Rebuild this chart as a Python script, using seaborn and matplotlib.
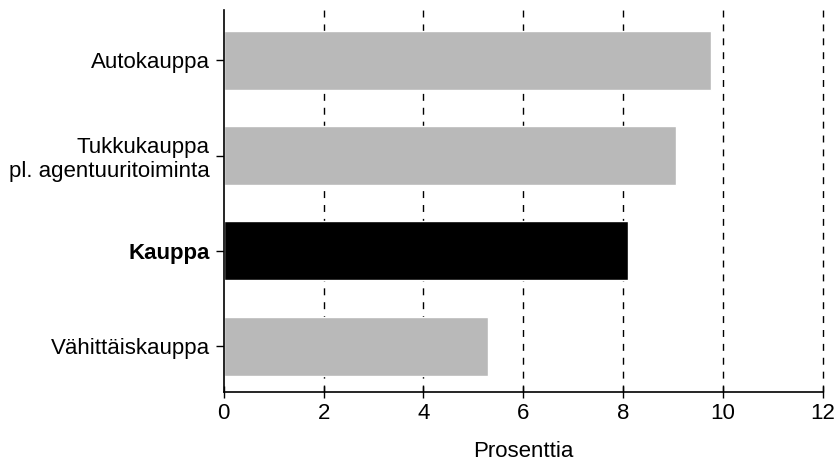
import pandas as pd
import matplotlib.pyplot as plt
import seaborn as sns

# Data
categories = ['Autokauppa', 'Tukkukauppa\npl. agentuuritoiminta', 'Kauppa', 'Vähittäiskauppa']
values = [9.75, 9.05, 8.1, 5.3]
bar_colors = ['#b9b9b9', '#b9b9b9', '#000000', '#b9b9b9']
x_ticks = [0, 2, 4, 6, 8, 10, 12]

df = pd.DataFrame({'toimiala': categories, 'prosenttia': values})

sns.set_style('white')
plt.rcParams['font.family'] = ['Liberation Sans', 'DejaVu Sans']
plt.rcParams['text.color'] = 'black'
plt.rcParams['xtick.color'] = 'black'
plt.rcParams['ytick.color'] = 'black'
plt.rcParams['axes.labelcolor'] = 'black'

fig = plt.figure(figsize=(8.38, 4.66), dpi=100)
ax = fig.add_axes([0.267, 0.159, 0.715, 0.820])

sns.barplot(data=df, x='prosenttia', y='toimiala', hue='toimiala',
            palette=bar_colors, orient='h', width=0.62, legend=False,
            saturation=1, ax=ax)

fs = 16
ax.set_xlim(0, 12)
ax.set_ylim(3.48, -0.53)
ax.set_xticks(x_ticks)
ax.set_xticklabels([str(t) for t in x_ticks], fontsize=fs)
ax.tick_params(axis='y', labelsize=fs, length=6, width=1, direction='out', left=True, pad=4)
ax.tick_params(axis='x', length=8, width=1, direction='inout', bottom=True, pad=4)

for lab in ax.get_yticklabels():
    if lab.get_text() == 'Kauppa':
        lab.set_fontweight('bold')

# dashed vertical grid
for t in x_ticks[1:]:
    ax.axvline(t, color='black', linestyle=(0, (5, 5)), linewidth=1, zorder=0, clip_on=False)

for side in ['top', 'right']:
    ax.spines[side].set_visible(False)
for side in ['left', 'bottom']:
    ax.spines[side].set_color('black')
    ax.spines[side].set_linewidth(1.2)

ax.set_ylabel('')
ax.set_xlabel('Prosenttia', fontsize=fs, labelpad=12)

plt.savefig('out.png', dpi=100)
